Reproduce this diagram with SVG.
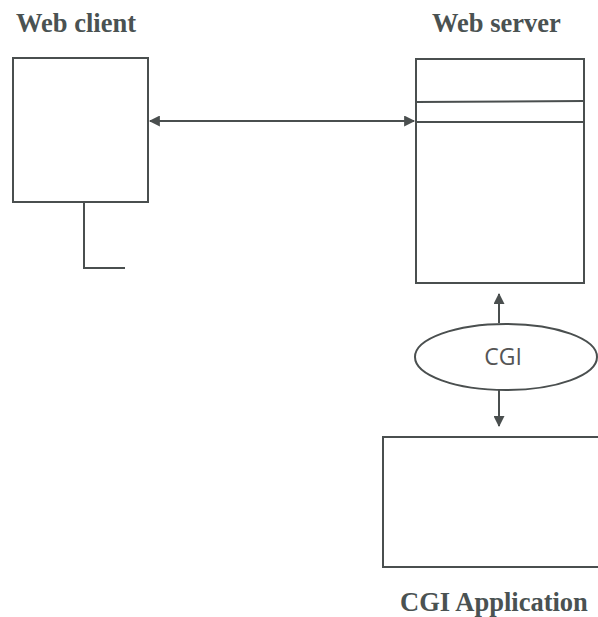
<svg xmlns="http://www.w3.org/2000/svg" width="598" height="617" viewBox="0 0 598 617">
<style>
.t{font-family:"Liberation Serif","Times New Roman",serif;font-weight:bold;font-size:26.5px;fill:#4a5252}
.b{fill:none;stroke:#4a4f4f;stroke-width:2}
.c{stroke:#4a4f4f;stroke-width:2;fill:none}
.l{font-family:"Open Sans","Liberation Sans",sans-serif;font-size:23px;fill:#555}
</style>
<defs>
<marker id="ah2" viewBox="0 0 10 10" refX="9" refY="5" markerWidth="13" markerHeight="11" orient="auto-start-reverse" markerUnits="userSpaceOnUse">
<path d="M0,0 L10,5 L0,10 Z" fill="#4a4f4f"/>
</marker>
</defs>
<g id="web-client">
<rect class="b" x="13" y="58" width="135" height="144"/>
<text class="t" x="16" y="32">Web client</text>
<path class="c" d="M84,202 V268 H125"/>
</g>
<g id="web-server">
<rect class="b" x="416" y="59" width="168" height="224"/>
<line class="c" x1="416" y1="102" x2="584" y2="101"/>
<line class="c" x1="416" y1="122" x2="584" y2="122"/>
<text class="t" x="432" y="32">Web server</text>
</g>
<g id="cgi">
<ellipse class="b" cx="506" cy="357" rx="91" ry="33"/>
<text class="l" x="503" y="365" text-anchor="middle">CGI</text>
</g>
<g id="cgi-application">
<rect class="b" x="383" y="437" width="220" height="130"/>
<text class="t" x="494" y="611" text-anchor="middle">CGI Application</text>
</g>
<g id="connectors">
<line class="c" x1="150" y1="121" x2="414" y2="121" marker-start="url(#ah2)" marker-end="url(#ah2)"/>
<line class="c" x1="499" y1="323" x2="499" y2="294" marker-end="url(#ah2)"/>
<line class="c" x1="499" y1="390" x2="499" y2="426" marker-end="url(#ah2)"/>
</g>
</svg>
